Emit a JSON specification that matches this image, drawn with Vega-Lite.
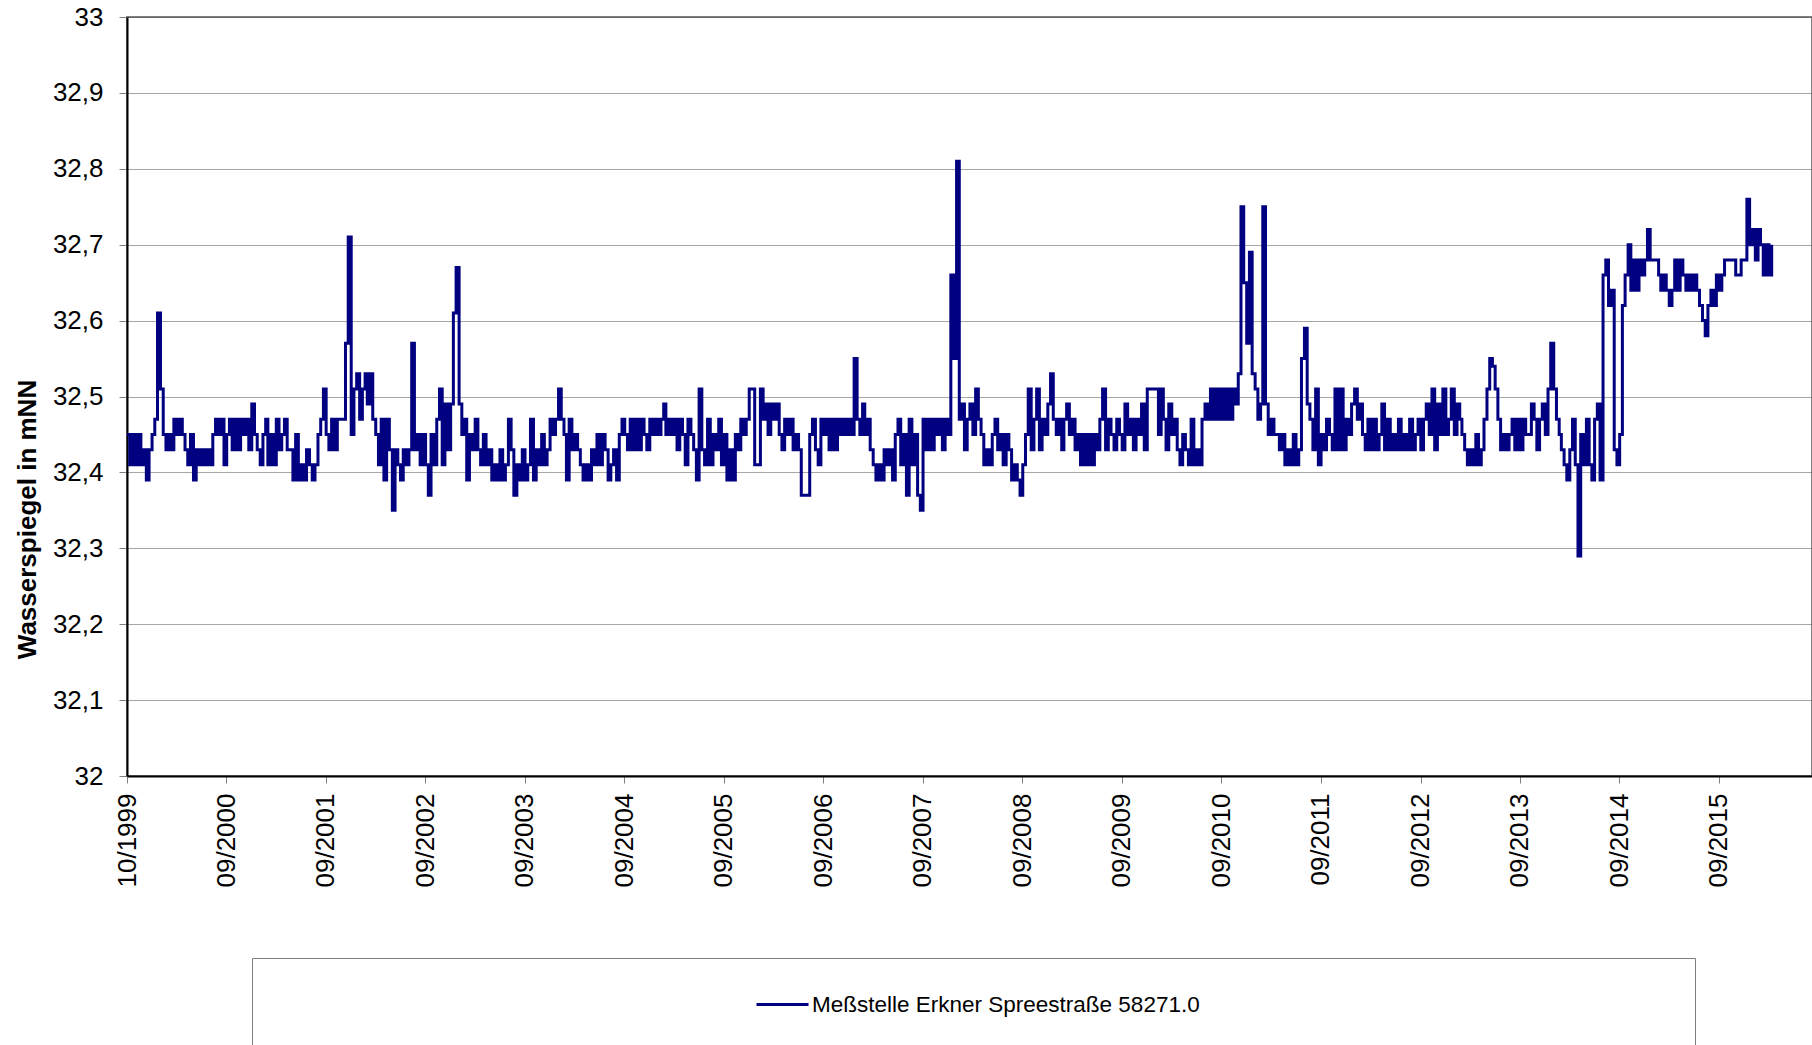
{
"$schema": "https://vega.github.io/schema/vega-lite/v6.json",
"autosize": {"type": "none"},
"padding": {"left": 127, "top": 17, "right": 1685, "bottom": 1028},
"background": "white",
"config": {
  "font": "Liberation Sans",
  "view": {"stroke": null},
  "locale": {"number": {"decimal": ",", "thousands": ".", "grouping": [3], "currency": ["", " €"]}}
},
"bounds": "flush",
"spacing": 182,
"vconcat": [
{
"width": 1685,
"height": 759,
"view": {"stroke": "#808080", "strokeWidth": 2},
"data": {"values": [
{"d":"1999-10-01","v":32.45},{"d":"1999-10-11","v":32.41},{"d":"1999-10-21","v":32.45},
{"d":"1999-11-01","v":32.41},{"d":"1999-11-11","v":32.45},{"d":"1999-11-21","v":32.41},
{"d":"1999-12-01","v":32.43},{"d":"1999-12-11","v":32.39},{"d":"1999-12-21","v":32.43},
{"d":"2000-01-01","v":32.45},{"d":"2000-01-11","v":32.47},{"d":"2000-01-21","v":32.61},
{"d":"2000-02-01","v":32.51},{"d":"2000-02-11","v":32.45},{"d":"2000-02-21","v":32.43},
{"d":"2000-03-01","v":32.45},{"d":"2000-03-11","v":32.43},{"d":"2000-03-21","v":32.47},
{"d":"2000-04-01","v":32.45},{"d":"2000-04-11","v":32.47},{"d":"2000-04-21","v":32.45},
{"d":"2000-05-01","v":32.43},{"d":"2000-05-11","v":32.41},{"d":"2000-05-21","v":32.45},
{"d":"2000-06-01","v":32.39},{"d":"2000-06-11","v":32.43},{"d":"2000-06-21","v":32.41},
{"d":"2000-07-01","v":32.43},{"d":"2000-07-11","v":32.41},{"d":"2000-07-21","v":32.43},
{"d":"2000-08-01","v":32.41},{"d":"2000-08-11","v":32.45},{"d":"2000-08-21","v":32.47},
{"d":"2000-09-01","v":32.45},{"d":"2000-09-11","v":32.47},{"d":"2000-09-21","v":32.41},
{"d":"2000-10-01","v":32.45},{"d":"2000-10-11","v":32.47},{"d":"2000-10-21","v":32.43},
{"d":"2000-11-01","v":32.47},{"d":"2000-11-11","v":32.43},{"d":"2000-11-21","v":32.47},
{"d":"2000-12-01","v":32.45},{"d":"2000-12-11","v":32.47},{"d":"2000-12-21","v":32.43},
{"d":"2001-01-01","v":32.49},{"d":"2001-01-11","v":32.45},{"d":"2001-01-21","v":32.43},
{"d":"2001-02-01","v":32.41},{"d":"2001-02-11","v":32.45},{"d":"2001-02-21","v":32.47},
{"d":"2001-03-01","v":32.41},{"d":"2001-03-11","v":32.45},{"d":"2001-03-21","v":32.41},
{"d":"2001-04-01","v":32.47},{"d":"2001-04-11","v":32.43},{"d":"2001-04-21","v":32.45},
{"d":"2001-05-01","v":32.47},{"d":"2001-05-11","v":32.43},{"d":"2001-05-21","v":32.43},
{"d":"2001-06-01","v":32.39},{"d":"2001-06-11","v":32.45},{"d":"2001-06-21","v":32.39},
{"d":"2001-07-01","v":32.41},{"d":"2001-07-11","v":32.39},{"d":"2001-07-21","v":32.43},
{"d":"2001-08-01","v":32.41},{"d":"2001-08-11","v":32.39},{"d":"2001-08-21","v":32.41},
{"d":"2001-09-01","v":32.45},{"d":"2001-09-11","v":32.47},{"d":"2001-09-21","v":32.51},
{"d":"2001-10-01","v":32.45},{"d":"2001-10-11","v":32.43},{"d":"2001-10-21","v":32.47},
{"d":"2001-11-01","v":32.43},{"d":"2001-11-11","v":32.47},{"d":"2001-11-21","v":32.47},
{"d":"2001-12-01","v":32.47},{"d":"2001-12-11","v":32.57},{"d":"2001-12-21","v":32.71},
{"d":"2002-01-01","v":32.45},{"d":"2002-01-11","v":32.51},{"d":"2002-01-21","v":32.53},
{"d":"2002-02-01","v":32.47},{"d":"2002-02-11","v":32.51},{"d":"2002-02-21","v":32.53},
{"d":"2002-03-01","v":32.49},{"d":"2002-03-11","v":32.53},{"d":"2002-03-21","v":32.47},
{"d":"2002-04-01","v":32.45},{"d":"2002-04-11","v":32.41},{"d":"2002-04-21","v":32.47},
{"d":"2002-05-01","v":32.39},{"d":"2002-05-11","v":32.47},{"d":"2002-05-21","v":32.43},
{"d":"2002-06-01","v":32.35},{"d":"2002-06-11","v":32.43},{"d":"2002-06-21","v":32.41},
{"d":"2002-07-01","v":32.39},{"d":"2002-07-11","v":32.43},{"d":"2002-07-21","v":32.41},
{"d":"2002-08-01","v":32.43},{"d":"2002-08-11","v":32.57},{"d":"2002-08-21","v":32.43},
{"d":"2002-09-01","v":32.45},{"d":"2002-09-11","v":32.41},{"d":"2002-09-21","v":32.45},
{"d":"2002-10-01","v":32.41},{"d":"2002-10-11","v":32.37},{"d":"2002-10-21","v":32.45},
{"d":"2002-11-01","v":32.41},{"d":"2002-11-11","v":32.47},{"d":"2002-11-21","v":32.51},
{"d":"2002-12-01","v":32.41},{"d":"2002-12-11","v":32.49},{"d":"2002-12-21","v":32.43},
{"d":"2003-01-01","v":32.49},{"d":"2003-01-11","v":32.61},{"d":"2003-01-21","v":32.67},
{"d":"2003-02-01","v":32.49},{"d":"2003-02-11","v":32.45},{"d":"2003-02-21","v":32.47},
{"d":"2003-03-01","v":32.39},{"d":"2003-03-11","v":32.45},{"d":"2003-03-21","v":32.43},
{"d":"2003-04-01","v":32.47},{"d":"2003-04-11","v":32.43},{"d":"2003-04-21","v":32.41},
{"d":"2003-05-01","v":32.45},{"d":"2003-05-11","v":32.41},{"d":"2003-05-21","v":32.43},
{"d":"2003-06-01","v":32.39},{"d":"2003-06-11","v":32.41},{"d":"2003-06-21","v":32.39},
{"d":"2003-07-01","v":32.43},{"d":"2003-07-11","v":32.39},{"d":"2003-07-21","v":32.41},
{"d":"2003-08-01","v":32.47},{"d":"2003-08-11","v":32.43},{"d":"2003-08-21","v":32.37},
{"d":"2003-09-01","v":32.41},{"d":"2003-09-11","v":32.39},{"d":"2003-09-21","v":32.43},
{"d":"2003-10-01","v":32.39},{"d":"2003-10-11","v":32.41},{"d":"2003-10-21","v":32.47},
{"d":"2003-11-01","v":32.39},{"d":"2003-11-11","v":32.43},{"d":"2003-11-21","v":32.41},
{"d":"2003-12-01","v":32.45},{"d":"2003-12-11","v":32.41},{"d":"2003-12-21","v":32.43},
{"d":"2004-01-01","v":32.47},{"d":"2004-01-11","v":32.45},{"d":"2004-01-21","v":32.47},
{"d":"2004-02-01","v":32.51},{"d":"2004-02-11","v":32.47},{"d":"2004-02-21","v":32.45},
{"d":"2004-03-01","v":32.39},{"d":"2004-03-11","v":32.47},{"d":"2004-03-21","v":32.43},
{"d":"2004-04-01","v":32.45},{"d":"2004-04-11","v":32.43},{"d":"2004-04-21","v":32.41},
{"d":"2004-05-01","v":32.39},{"d":"2004-05-11","v":32.41},{"d":"2004-05-21","v":32.39},
{"d":"2004-06-01","v":32.43},{"d":"2004-06-11","v":32.41},{"d":"2004-06-21","v":32.45},
{"d":"2004-07-01","v":32.41},{"d":"2004-07-11","v":32.45},{"d":"2004-07-21","v":32.43},
{"d":"2004-08-01","v":32.39},{"d":"2004-08-11","v":32.41},{"d":"2004-08-21","v":32.43},
{"d":"2004-09-01","v":32.39},{"d":"2004-09-11","v":32.45},{"d":"2004-09-21","v":32.47},
{"d":"2004-10-01","v":32.45},{"d":"2004-10-11","v":32.43},{"d":"2004-10-21","v":32.47},
{"d":"2004-11-01","v":32.43},{"d":"2004-11-11","v":32.47},{"d":"2004-11-21","v":32.43},
{"d":"2004-12-01","v":32.47},{"d":"2004-12-11","v":32.45},{"d":"2004-12-21","v":32.43},
{"d":"2005-01-01","v":32.47},{"d":"2005-01-11","v":32.45},{"d":"2005-01-21","v":32.47},
{"d":"2005-02-01","v":32.45},{"d":"2005-02-11","v":32.47},{"d":"2005-02-21","v":32.49},
{"d":"2005-03-01","v":32.45},{"d":"2005-03-11","v":32.47},{"d":"2005-03-21","v":32.45},
{"d":"2005-04-01","v":32.47},{"d":"2005-04-11","v":32.43},{"d":"2005-04-21","v":32.47},
{"d":"2005-05-01","v":32.45},{"d":"2005-05-11","v":32.41},{"d":"2005-05-21","v":32.47},
{"d":"2005-06-01","v":32.45},{"d":"2005-06-11","v":32.43},{"d":"2005-06-21","v":32.39},
{"d":"2005-07-01","v":32.51},{"d":"2005-07-11","v":32.43},{"d":"2005-07-21","v":32.41},
{"d":"2005-08-01","v":32.47},{"d":"2005-08-11","v":32.41},{"d":"2005-08-21","v":32.45},
{"d":"2005-09-01","v":32.43},{"d":"2005-09-11","v":32.47},{"d":"2005-09-21","v":32.41},
{"d":"2005-10-01","v":32.45},{"d":"2005-10-11","v":32.39},{"d":"2005-10-21","v":32.43},
{"d":"2005-11-01","v":32.39},{"d":"2005-11-11","v":32.45},{"d":"2005-11-21","v":32.43},
{"d":"2005-12-01","v":32.47},{"d":"2005-12-11","v":32.45},{"d":"2005-12-21","v":32.47},
{"d":"2006-01-01","v":32.51},{"d":"2006-01-11","v":32.51},{"d":"2006-01-21","v":32.41},
{"d":"2006-02-01","v":32.41},{"d":"2006-02-11","v":32.51},{"d":"2006-02-21","v":32.47},
{"d":"2006-03-01","v":32.49},{"d":"2006-03-11","v":32.45},{"d":"2006-03-21","v":32.49},
{"d":"2006-04-01","v":32.47},{"d":"2006-04-11","v":32.49},{"d":"2006-04-21","v":32.45},
{"d":"2006-05-01","v":32.43},{"d":"2006-05-11","v":32.47},{"d":"2006-05-21","v":32.45},
{"d":"2006-06-01","v":32.47},{"d":"2006-06-11","v":32.43},{"d":"2006-06-21","v":32.45},
{"d":"2006-07-01","v":32.43},{"d":"2006-07-11","v":32.37},{"d":"2006-07-21","v":32.37},
{"d":"2006-08-01","v":32.37},{"d":"2006-08-11","v":32.45},{"d":"2006-08-21","v":32.47},
{"d":"2006-09-01","v":32.43},{"d":"2006-09-11","v":32.41},{"d":"2006-09-21","v":32.47},
{"d":"2006-10-01","v":32.45},{"d":"2006-10-11","v":32.47},{"d":"2006-10-21","v":32.43},
{"d":"2006-11-01","v":32.47},{"d":"2006-11-11","v":32.43},{"d":"2006-11-21","v":32.47},
{"d":"2006-12-01","v":32.45},{"d":"2006-12-11","v":32.47},{"d":"2006-12-21","v":32.45},
{"d":"2007-01-01","v":32.47},{"d":"2007-01-11","v":32.45},{"d":"2007-01-21","v":32.55},
{"d":"2007-02-01","v":32.47},{"d":"2007-02-11","v":32.45},{"d":"2007-02-21","v":32.49},
{"d":"2007-03-01","v":32.45},{"d":"2007-03-11","v":32.47},{"d":"2007-03-21","v":32.43},
{"d":"2007-04-01","v":32.41},{"d":"2007-04-11","v":32.39},{"d":"2007-04-21","v":32.41},
{"d":"2007-05-01","v":32.39},{"d":"2007-05-11","v":32.43},{"d":"2007-05-21","v":32.41},
{"d":"2007-06-01","v":32.43},{"d":"2007-06-11","v":32.39},{"d":"2007-06-21","v":32.45},
{"d":"2007-07-01","v":32.47},{"d":"2007-07-11","v":32.41},{"d":"2007-07-21","v":32.45},
{"d":"2007-08-01","v":32.37},{"d":"2007-08-11","v":32.47},{"d":"2007-08-21","v":32.41},
{"d":"2007-09-01","v":32.45},{"d":"2007-09-11","v":32.37},{"d":"2007-09-21","v":32.35},
{"d":"2007-10-01","v":32.47},{"d":"2007-10-11","v":32.43},{"d":"2007-10-21","v":32.47},
{"d":"2007-11-01","v":32.43},{"d":"2007-11-11","v":32.47},{"d":"2007-11-21","v":32.45},
{"d":"2007-12-01","v":32.47},{"d":"2007-12-11","v":32.43},{"d":"2007-12-21","v":32.47},
{"d":"2008-01-01","v":32.45},{"d":"2008-01-11","v":32.66},{"d":"2008-01-21","v":32.55},
{"d":"2008-02-01","v":32.81},{"d":"2008-02-11","v":32.47},{"d":"2008-02-21","v":32.49},
{"d":"2008-03-01","v":32.43},{"d":"2008-03-11","v":32.47},{"d":"2008-03-21","v":32.49},
{"d":"2008-04-01","v":32.45},{"d":"2008-04-11","v":32.51},{"d":"2008-04-21","v":32.47},
{"d":"2008-05-01","v":32.45},{"d":"2008-05-11","v":32.41},{"d":"2008-05-21","v":32.43},
{"d":"2008-06-01","v":32.41},{"d":"2008-06-11","v":32.45},{"d":"2008-06-21","v":32.47},
{"d":"2008-07-01","v":32.43},{"d":"2008-07-11","v":32.45},{"d":"2008-07-21","v":32.41},
{"d":"2008-08-01","v":32.45},{"d":"2008-08-11","v":32.43},{"d":"2008-08-21","v":32.39},
{"d":"2008-09-01","v":32.41},{"d":"2008-09-11","v":32.39},{"d":"2008-09-21","v":32.37},
{"d":"2008-10-01","v":32.41},{"d":"2008-10-11","v":32.45},{"d":"2008-10-21","v":32.51},
{"d":"2008-11-01","v":32.43},{"d":"2008-11-11","v":32.47},{"d":"2008-11-21","v":32.51},
{"d":"2008-12-01","v":32.43},{"d":"2008-12-11","v":32.47},{"d":"2008-12-21","v":32.45},
{"d":"2009-01-01","v":32.49},{"d":"2009-01-11","v":32.53},{"d":"2009-01-21","v":32.47},
{"d":"2009-02-01","v":32.45},{"d":"2009-02-11","v":32.47},{"d":"2009-02-21","v":32.43},
{"d":"2009-03-01","v":32.47},{"d":"2009-03-11","v":32.49},{"d":"2009-03-21","v":32.45},
{"d":"2009-04-01","v":32.47},{"d":"2009-04-11","v":32.43},{"d":"2009-04-21","v":32.45},
{"d":"2009-05-01","v":32.41},{"d":"2009-05-11","v":32.45},{"d":"2009-05-21","v":32.41},
{"d":"2009-06-01","v":32.45},{"d":"2009-06-11","v":32.41},{"d":"2009-06-21","v":32.45},
{"d":"2009-07-01","v":32.43},{"d":"2009-07-11","v":32.47},{"d":"2009-07-21","v":32.51},
{"d":"2009-08-01","v":32.43},{"d":"2009-08-11","v":32.47},{"d":"2009-08-21","v":32.45},
{"d":"2009-09-01","v":32.43},{"d":"2009-09-11","v":32.47},{"d":"2009-09-21","v":32.45},
{"d":"2009-10-01","v":32.43},{"d":"2009-10-11","v":32.49},{"d":"2009-10-21","v":32.45},
{"d":"2009-11-01","v":32.47},{"d":"2009-11-11","v":32.43},{"d":"2009-11-21","v":32.47},
{"d":"2009-12-01","v":32.45},{"d":"2009-12-11","v":32.49},{"d":"2009-12-21","v":32.43},
{"d":"2010-01-01","v":32.51},{"d":"2010-01-11","v":32.51},{"d":"2010-01-21","v":32.51},
{"d":"2010-02-01","v":32.51},{"d":"2010-02-11","v":32.45},{"d":"2010-02-21","v":32.51},
{"d":"2010-03-01","v":32.47},{"d":"2010-03-11","v":32.43},{"d":"2010-03-21","v":32.49},
{"d":"2010-04-01","v":32.45},{"d":"2010-04-11","v":32.47},{"d":"2010-04-21","v":32.43},
{"d":"2010-05-01","v":32.41},{"d":"2010-05-11","v":32.45},{"d":"2010-05-21","v":32.43},
{"d":"2010-06-01","v":32.41},{"d":"2010-06-11","v":32.47},{"d":"2010-06-21","v":32.41},
{"d":"2010-07-01","v":32.43},{"d":"2010-07-11","v":32.41},{"d":"2010-07-21","v":32.47},
{"d":"2010-08-01","v":32.49},{"d":"2010-08-11","v":32.47},{"d":"2010-08-21","v":32.51},
{"d":"2010-09-01","v":32.47},{"d":"2010-09-11","v":32.51},{"d":"2010-09-21","v":32.47},
{"d":"2010-10-01","v":32.51},{"d":"2010-10-11","v":32.47},{"d":"2010-10-21","v":32.51},
{"d":"2010-11-01","v":32.47},{"d":"2010-11-11","v":32.51},{"d":"2010-11-21","v":32.49},
{"d":"2010-12-01","v":32.53},{"d":"2010-12-11","v":32.75},{"d":"2010-12-21","v":32.65},
{"d":"2011-01-01","v":32.57},{"d":"2011-01-11","v":32.69},{"d":"2011-01-21","v":32.53},
{"d":"2011-02-01","v":32.51},{"d":"2011-02-11","v":32.47},{"d":"2011-02-21","v":32.49},
{"d":"2011-03-01","v":32.75},{"d":"2011-03-11","v":32.49},{"d":"2011-03-21","v":32.45},
{"d":"2011-04-01","v":32.47},{"d":"2011-04-11","v":32.45},{"d":"2011-04-21","v":32.45},
{"d":"2011-05-01","v":32.43},{"d":"2011-05-11","v":32.45},{"d":"2011-05-21","v":32.41},
{"d":"2011-06-01","v":32.43},{"d":"2011-06-11","v":32.41},{"d":"2011-06-21","v":32.45},
{"d":"2011-07-01","v":32.41},{"d":"2011-07-11","v":32.43},{"d":"2011-07-21","v":32.55},
{"d":"2011-08-01","v":32.59},{"d":"2011-08-11","v":32.49},{"d":"2011-08-21","v":32.47},
{"d":"2011-09-01","v":32.43},{"d":"2011-09-11","v":32.51},{"d":"2011-09-21","v":32.41},
{"d":"2011-10-01","v":32.45},{"d":"2011-10-11","v":32.43},{"d":"2011-10-21","v":32.47},
{"d":"2011-11-01","v":32.45},{"d":"2011-11-11","v":32.43},{"d":"2011-11-21","v":32.51},
{"d":"2011-12-01","v":32.43},{"d":"2011-12-11","v":32.51},{"d":"2011-12-21","v":32.43},
{"d":"2012-01-01","v":32.47},{"d":"2012-01-11","v":32.45},{"d":"2012-01-21","v":32.49},
{"d":"2012-02-01","v":32.51},{"d":"2012-02-11","v":32.47},{"d":"2012-02-21","v":32.49},
{"d":"2012-03-01","v":32.45},{"d":"2012-03-11","v":32.43},{"d":"2012-03-21","v":32.47},
{"d":"2012-04-01","v":32.43},{"d":"2012-04-11","v":32.47},{"d":"2012-04-21","v":32.43},
{"d":"2012-05-01","v":32.45},{"d":"2012-05-11","v":32.49},{"d":"2012-05-21","v":32.43},
{"d":"2012-06-01","v":32.47},{"d":"2012-06-11","v":32.43},{"d":"2012-06-21","v":32.45},
{"d":"2012-07-01","v":32.43},{"d":"2012-07-11","v":32.47},{"d":"2012-07-21","v":32.43},
{"d":"2012-08-01","v":32.45},{"d":"2012-08-11","v":32.43},{"d":"2012-08-21","v":32.47},
{"d":"2012-09-01","v":32.43},{"d":"2012-09-11","v":32.45},{"d":"2012-09-21","v":32.47},
{"d":"2012-10-01","v":32.43},{"d":"2012-10-11","v":32.47},{"d":"2012-10-21","v":32.49},
{"d":"2012-11-01","v":32.45},{"d":"2012-11-11","v":32.51},{"d":"2012-11-21","v":32.43},
{"d":"2012-12-01","v":32.49},{"d":"2012-12-11","v":32.45},{"d":"2012-12-21","v":32.51},
{"d":"2013-01-01","v":32.45},{"d":"2013-01-11","v":32.47},{"d":"2013-01-21","v":32.51},
{"d":"2013-02-01","v":32.45},{"d":"2013-02-11","v":32.49},{"d":"2013-02-21","v":32.47},
{"d":"2013-03-01","v":32.45},{"d":"2013-03-11","v":32.43},{"d":"2013-03-21","v":32.41},
{"d":"2013-04-01","v":32.43},{"d":"2013-04-11","v":32.41},{"d":"2013-04-21","v":32.45},
{"d":"2013-05-01","v":32.41},{"d":"2013-05-11","v":32.43},{"d":"2013-05-21","v":32.47},
{"d":"2013-06-01","v":32.51},{"d":"2013-06-11","v":32.55},{"d":"2013-06-21","v":32.54},
{"d":"2013-07-01","v":32.51},{"d":"2013-07-11","v":32.47},{"d":"2013-07-21","v":32.43},
{"d":"2013-08-01","v":32.45},{"d":"2013-08-11","v":32.43},{"d":"2013-08-21","v":32.45},
{"d":"2013-09-01","v":32.47},{"d":"2013-09-11","v":32.43},{"d":"2013-09-21","v":32.47},
{"d":"2013-10-01","v":32.43},{"d":"2013-10-11","v":32.47},{"d":"2013-10-21","v":32.45},
{"d":"2013-11-01","v":32.45},{"d":"2013-11-11","v":32.49},{"d":"2013-11-21","v":32.47},
{"d":"2013-12-01","v":32.43},{"d":"2013-12-11","v":32.47},{"d":"2013-12-21","v":32.49},
{"d":"2014-01-01","v":32.45},{"d":"2014-01-11","v":32.51},{"d":"2014-01-21","v":32.57},
{"d":"2014-02-01","v":32.51},{"d":"2014-02-11","v":32.47},{"d":"2014-02-21","v":32.45},
{"d":"2014-03-01","v":32.43},{"d":"2014-03-11","v":32.41},{"d":"2014-03-21","v":32.39},
{"d":"2014-04-01","v":32.43},{"d":"2014-04-11","v":32.47},{"d":"2014-04-21","v":32.41},
{"d":"2014-05-01","v":32.29},{"d":"2014-05-11","v":32.45},{"d":"2014-05-21","v":32.41},
{"d":"2014-06-01","v":32.47},{"d":"2014-06-11","v":32.41},{"d":"2014-06-21","v":32.39},
{"d":"2014-07-01","v":32.47},{"d":"2014-07-11","v":32.49},{"d":"2014-07-21","v":32.39},
{"d":"2014-08-01","v":32.66},{"d":"2014-08-11","v":32.68},{"d":"2014-08-21","v":32.62},
{"d":"2014-09-01","v":32.64},{"d":"2014-09-11","v":32.43},{"d":"2014-09-21","v":32.41},
{"d":"2014-10-01","v":32.45},{"d":"2014-10-11","v":32.62},{"d":"2014-10-21","v":32.66},
{"d":"2014-11-01","v":32.70},{"d":"2014-11-11","v":32.64},{"d":"2014-11-21","v":32.68},
{"d":"2014-12-01","v":32.64},{"d":"2014-12-11","v":32.68},{"d":"2014-12-21","v":32.66},
{"d":"2015-01-01","v":32.68},{"d":"2015-01-11","v":32.72},{"d":"2015-01-21","v":32.68},
{"d":"2015-02-01","v":32.68},{"d":"2015-02-11","v":32.68},{"d":"2015-02-21","v":32.66},
{"d":"2015-03-01","v":32.64},{"d":"2015-03-11","v":32.66},{"d":"2015-03-21","v":32.64},
{"d":"2015-04-01","v":32.62},{"d":"2015-04-11","v":32.64},{"d":"2015-04-21","v":32.68},
{"d":"2015-05-01","v":32.64},{"d":"2015-05-11","v":32.68},{"d":"2015-05-21","v":32.66},
{"d":"2015-06-01","v":32.64},{"d":"2015-06-11","v":32.66},{"d":"2015-06-21","v":32.64},
{"d":"2015-07-01","v":32.66},{"d":"2015-07-11","v":32.64},{"d":"2015-07-21","v":32.62},
{"d":"2015-08-01","v":32.60},{"d":"2015-08-11","v":32.58},{"d":"2015-08-21","v":32.62},
{"d":"2015-09-01","v":32.64},{"d":"2015-09-11","v":32.62},{"d":"2015-09-21","v":32.66},
{"d":"2015-10-01","v":32.64},{"d":"2015-10-11","v":32.66},{"d":"2015-10-21","v":32.68},
{"d":"2015-11-01","v":32.68},{"d":"2015-11-11","v":32.68},{"d":"2015-11-21","v":32.68},
{"d":"2015-12-01","v":32.66},{"d":"2015-12-11","v":32.66},{"d":"2015-12-21","v":32.68},
{"d":"2016-01-01","v":32.68},{"d":"2016-01-11","v":32.76},{"d":"2016-01-21","v":32.70},
{"d":"2016-02-01","v":32.72},{"d":"2016-02-11","v":32.68},{"d":"2016-02-21","v":32.72},
{"d":"2016-03-01","v":32.70},{"d":"2016-03-11","v":32.66},{"d":"2016-03-21","v":32.70},
{"d":"2016-04-01","v":32.66},{"d":"2016-04-11","v":32.70}
]},
"mark": {"type": "line", "strokeWidth": 3, "interpolate": "step-after", "clip": true},
"encoding": {
  "x": {
    "field": "d", "type": "temporal",
    "scale": {"type": "utc", "domain": [{"year": 1999, "month": 10, "date": 1, "utc": true}, {"year": 2016, "month": 9, "date": 6, "utc": true}]},
    "axis": {
      "title": null,
      "values": [
        {"year": 1999, "month": 10, "date": 1, "utc": true},
        {"year": 2000, "month": 9, "date": 30, "utc": true},
        {"year": 2001, "month": 9, "date": 30, "utc": true},
        {"year": 2002, "month": 9, "date": 30, "utc": true},
        {"year": 2003, "month": 9, "date": 30, "utc": true},
        {"year": 2004, "month": 9, "date": 30, "utc": true},
        {"year": 2005, "month": 9, "date": 30, "utc": true},
        {"year": 2006, "month": 9, "date": 30, "utc": true},
        {"year": 2007, "month": 9, "date": 30, "utc": true},
        {"year": 2008, "month": 9, "date": 30, "utc": true},
        {"year": 2009, "month": 9, "date": 30, "utc": true},
        {"year": 2010, "month": 9, "date": 30, "utc": true},
        {"year": 2011, "month": 9, "date": 30, "utc": true},
        {"year": 2012, "month": 9, "date": 30, "utc": true},
        {"year": 2013, "month": 9, "date": 30, "utc": true},
        {"year": 2014, "month": 9, "date": 30, "utc": true},
        {"year": 2015, "month": 9, "date": 30, "utc": true}
      ],
      "format": "%m/%Y",
      "labelAngle": -90,
      "labelFontSize": 26,
      "labelColor": "#000000",
      "labelPadding": 10,
      "labelFlush": false,
      "labelOverlap": false,
      "tickSize": 7,
      "tickColor": "#808080",
      "domainColor": "#000000",
      "domainWidth": 2,
      "grid": false
    }
  },
  "y": {
    "field": "v", "type": "quantitative",
    "scale": {"domain": [32, 33], "nice": false, "zero": false},
    "axis": {
      "title": "Wasserspiegel in mNN",
      "titleFontSize": 26,
      "titleFontWeight": "bold",
      "titleColor": "#000000",
      "titleAngle": 270,
      "titleX": -92,
      "titleY": 502,
      "titleAlign": "center",
      "titleBaseline": "alphabetic",
      "values": [32, 32.1, 32.2, 32.3, 32.4, 32.5, 32.6, 32.7, 32.8, 32.9, 33],
      "format": ".1~f",
      "labelFontSize": 26,
      "labelColor": "#000000",
      "labelPadding": 16,
      "tickSize": 8,
      "tickColor": "#808080",
      "domainColor": "#000000",
      "domainWidth": 2,
      "grid": true,
      "gridColor": "#4d4d4d",
      "gridDash": [1, 1],
      "gridWidth": 1
    }
  },
  "color": {
    "datum": "Meßstelle Erkner Spreestraße 58271.0",
    "type": "nominal",
    "scale": {"range": ["#000080"]},
    "legend": {
      "orient": "none",
      "legendX": 628,
      "legendY": 960,
      "title": null,
      "padding": 0,
      "symbolType": "stroke",
      "symbolSize": 2704,
      "symbolStrokeWidth": 3,
      "symbolOffset": 0,
      "labelOffset": 2,
      "labelFontSize": 22.5,
      "labelLimit": 1000,
      "labelColor": "#000000"
    }
  }
}
},
{
"bounds": "flush",
"spacing": 10,
"hconcat": [
  {
    "width": 115,
    "height": 87,
    "view": {"stroke": null},
    "data": {"values": []},
    "mark": "point",
    "encoding": {}
  },
  {
    "width": 1443,
    "height": 87,
    "view": {"stroke": "#808080", "strokeWidth": 1},
    "data": {"values": []},
    "mark": "point",
    "encoding": {}
  }
]
}
]
}
